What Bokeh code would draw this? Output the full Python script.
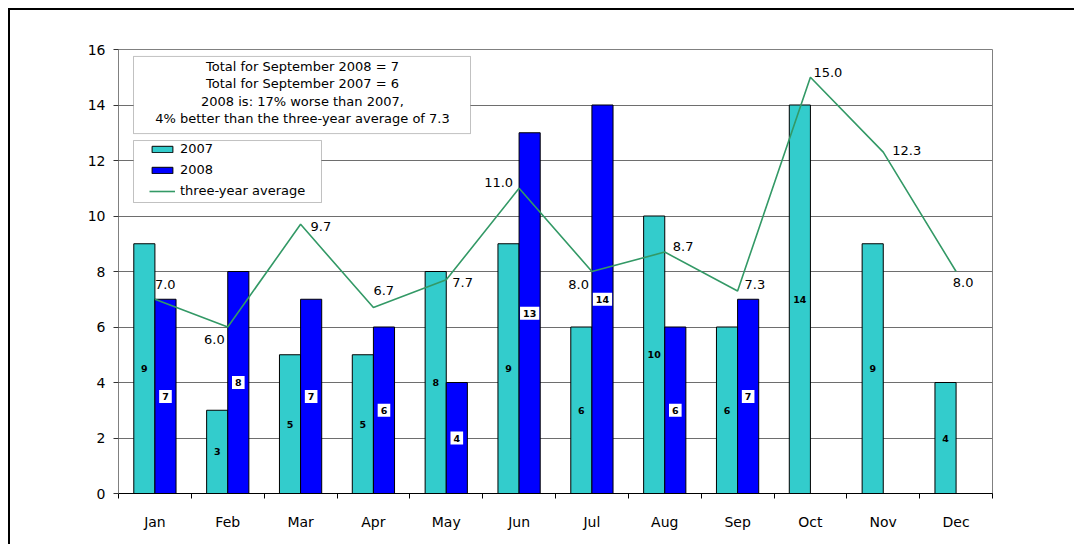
from bokeh.plotting import figure
from bokeh.models import (Range1d, FixedTicker, ColumnDataSource, Legend, LegendItem,
                          BoxAnnotation, Label, LabelSet)
from bokeh.core.properties import value
from bokeh.embed import file_html
from bokeh.resources import INLINE

months = ["Jan", "Feb", "Mar", "Apr", "May", "Jun", "Jul", "Aug", "Sep", "Oct", "Nov", "Dec"]
v2007 = [9, 3, 5, 5, 8, 9, 6, 10, 6, 14, 9, 4]
v2008 = [7, 8, 7, 6, 4, 13, 14, 6, 7]
avg3 = [7.0, 6.0, 9.7, 6.7, 7.7, 11.0, 8.0, 8.7, 7.3, 15.0, 12.3, 8.0]
y_ticks = [0, 2, 4, 6, 8, 10, 12, 14, 16]
note_lines = ["Total for September 2008 = 7",
              "Total for September 2007 = 6",
              "2008 is: 17% worse than 2007,",
              "4% better than the three-year average of 7.3"]

# label placement for the average line (style only)
avg_align = ["left", "right", "left", "left", "left", "right", "right", "left", "left", "left", "left", "center"]
avg_dx = [0, -3, 10, 0, 6, -6, -3, 8, 7, 3, 9, 7]
avg_dy = [15, -12, -2, 17, -3, 6, -13, 6, 6, 5, 2, -11]

FONT = "DejaVu Sans"
C07 = "#33CCCC"
C08 = "#0000FF"
CAVG = "#339966"
BW = 0.29

centers = [i + 0.5 for i in range(len(months))]

p = figure(width=1066, height=536, x_range=Range1d(0, 12), y_range=Range1d(0, 16),
           output_backend="svg", toolbar_location=None,
           min_border_left=108, min_border_right=84, min_border_top=39, min_border_bottom=53)
p.styles = {"margin-left": "8px", "margin-top": "8px",
            "border-top": "2px solid black", "border-left": "2px solid black",
            "border-right": "0px none", "border-bottom": "0px none", "outline": "none",
            "box-shadow": "none"}
p.border_fill_color = "white"
p.outline_line_color = "#808080"
p.xgrid.visible = False
p.ygrid.ticker = FixedTicker(ticks=y_ticks)
p.ygrid.grid_line_color = "#6e6e6e"
p.ygrid.grid_line_width = 1

# axes
p.xaxis.ticker = FixedTicker(ticks=centers, minor_ticks=list(range(13)))
p.xaxis.major_label_overrides = {c: m for c, m in zip(centers, months)}
p.xaxis.major_tick_line_color = None
p.xaxis.minor_tick_line_color = "black"
p.xaxis.minor_tick_out = 5
p.xaxis.minor_tick_in = 0
p.xaxis.axis_line_color = "black"
p.xaxis.major_label_standoff = 14
p.xaxis.major_label_text_font = FONT
p.xaxis.major_label_text_font_size = "14px"
p.xaxis.major_label_text_color = "black"

p.yaxis.ticker = FixedTicker(ticks=y_ticks)
p.yaxis.minor_tick_line_color = None
p.yaxis.major_tick_out = 5
p.yaxis.major_tick_in = 0
p.yaxis.major_tick_line_color = "#333333"
p.yaxis.axis_line_color = "#808080"
p.yaxis.major_label_standoff = 8
p.yaxis.major_label_text_font = FONT
p.yaxis.major_label_text_font_size = "14px"
p.yaxis.major_label_text_color = "black"

# bars
src07 = ColumnDataSource(dict(x=[c - BW / 2 for c in centers], top=v2007,
                              mid=[v / 2 for v in v2007], lab=[str(v) for v in v2007]))
src08 = ColumnDataSource(dict(x=[c + BW / 2 for c in centers[:len(v2008)]], top=v2008,
                              mid=[v / 2 for v in v2008], lab=[str(v) for v in v2008]))
r07 = p.vbar(x="x", top="top", width=BW, source=src07, fill_color=C07, line_color="black", line_width=1)
r08 = p.vbar(x="x", top="top", width=BW, source=src08, fill_color=C08, line_color="black", line_width=1)

p.text(x="x", y="mid", text="lab", source=src07, text_align="center", text_baseline="middle",
       text_font=value(FONT), text_font_size="9.5px", text_font_style="bold", text_color="black")
p.text(x="x", y="mid", text="lab", source=src08, text_align="center", text_baseline="middle",
       text_font=value(FONT), text_font_size="9.5px", text_font_style="bold", text_color="black",
       background_fill_color="white", padding=3)

# three-year average line
srcavg = ColumnDataSource(dict(x=centers, y=avg3, lab=["%.1f" % v for v in avg3],
                               align=avg_align, dx=avg_dx, dy=avg_dy))
ravg = p.line(x="x", y="y", source=srcavg, line_color=CAVG, line_width=1.6)
p.add_layout(LabelSet(x="x", y="y", text="lab", source=srcavg, text_align="align",
                      x_offset="dx", y_offset="dy", text_baseline="middle",
                      text_font=value(FONT), text_font_size="13px", text_color="black"))

# note box
p.add_layout(BoxAnnotation(left=0.206, right=4.833, bottom=12.97, top=15.75,
                           fill_color="white", fill_alpha=1, line_color="#333333", line_width=1,
                           level="annotation"))
note_y = [15.39, 14.77, 14.13, 13.50]
for t, yy in zip(note_lines, note_y):
    p.add_layout(Label(x=2.526, y=yy, text=t, text_align="center", text_baseline="middle",
                       text_font=FONT, text_font_size="13px", text_color="black"))

# legend box + legend
p.add_layout(BoxAnnotation(left=0.206, right=2.787, bottom=10.486, top=12.72,
                           fill_color="white", fill_alpha=1, line_color="#333333", line_width=1,
                           level="annotation"))
legend = Legend(items=[LegendItem(label="2007", renderers=[r07]),
                       LegendItem(label="2008", renderers=[r08]),
                       LegendItem(label="three-year average", renderers=[ravg])],
                location=(31, 295), padding=0, margin=0, spacing=6,
                glyph_width=26, glyph_height=8, label_height=14, label_standoff=5,
                label_text_font=FONT, label_text_font_size="13px", label_text_color="black",
                border_line_color=None, background_fill_alpha=0)
p.add_layout(legend, "center")

open("out.html", "w").write(file_html(p, INLINE))
